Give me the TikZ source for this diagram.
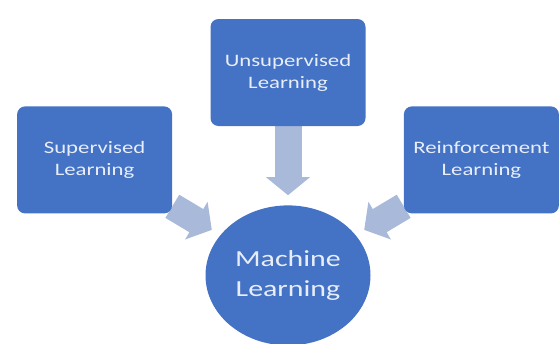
\documentclass[tikz,border=0pt]{standalone}
\usepackage{fontspec}
\setmainfont{Carlito}[FakeStretch=1.3]
\usetikzlibrary{positioning,arrows.meta,backgrounds,shapes.geometric}
\definecolor{boxblue}{HTML}{4472C4}
\definecolor{arrowgrey}{HTML}{A9B9DA}
\definecolor{textwhite}{HTML}{E8EEF9}

\begin{document}
\begin{tikzpicture}[x=1pt, y=1pt,
  box/.style={fill=boxblue, rounded corners=8pt, minimum width=155pt, minimum height=107pt, inner sep=0pt, align=center, text=textwhite, font=\fontsize{17.5}{22}\selectfont},
  hub/.style={fill=boxblue, ellipse, minimum width=165pt, minimum height=140pt, inner sep=0pt, align=center, text=textwhite, font=\fontsize{23}{30}\selectfont},
  fat/.style={line width=27pt, arrowgrey, -{Triangle[width=43pt,length=18pt]}, shorten >=10pt}]
\useasboundingbox (0,0) rectangle (560,-343);
\node  (ul)[box] at (288,-72.5) {Unsupervised\\Learning};
\node  (sl)[box] [below left=-20pt and 38pt of ul] {Supervised\\Learning};
\node  (rl)[box] [below right=-20pt and 38pt of ul] {Reinforcement\\Learning};
\node  (ml)[hub] [below=79pt of ul] {Machine\\Learning};
\begin{pgfonlayer}{background}
\draw[fat] (sl) -- (ml);
\draw[fat] (ul) -- (ml);
\draw[fat] (rl) -- (ml);
\end{pgfonlayer}
\end{tikzpicture}
\end{document}
